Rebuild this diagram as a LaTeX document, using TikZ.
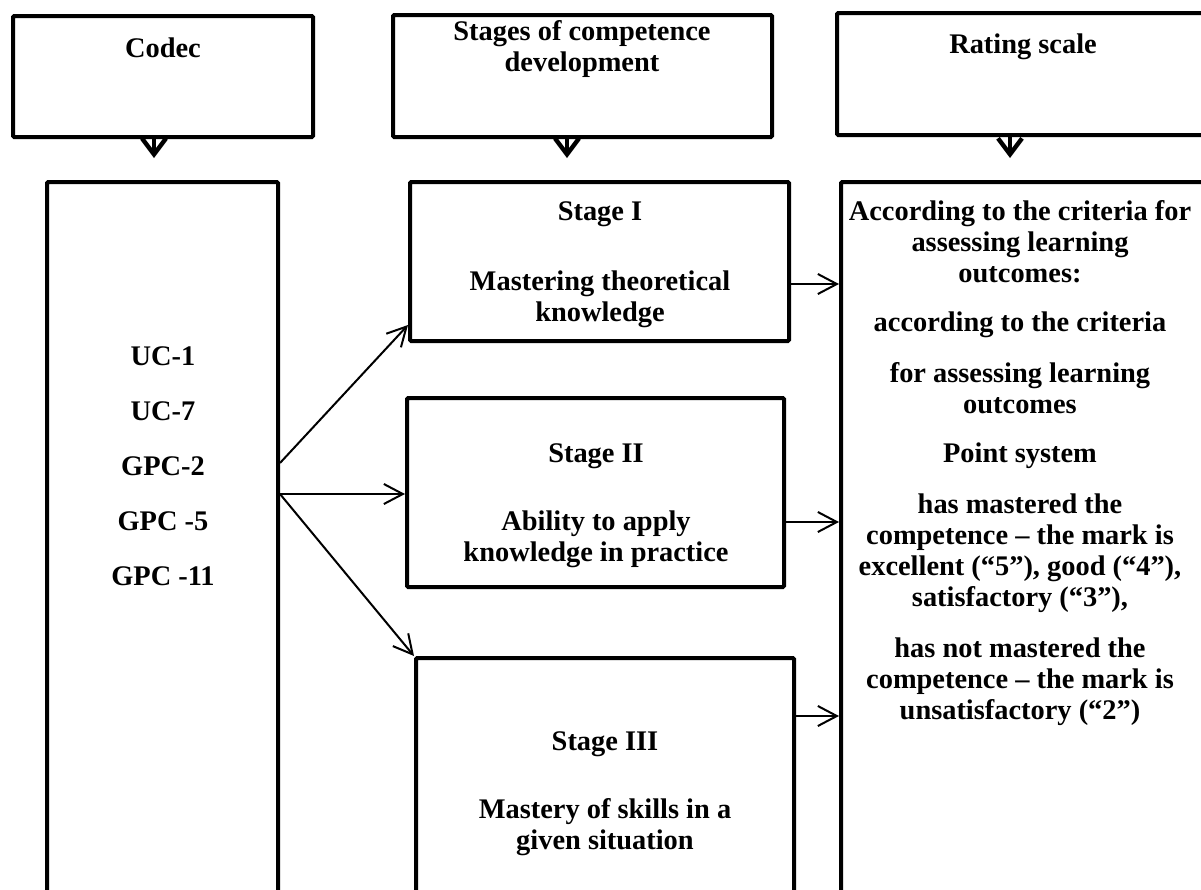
\documentclass[tikz,border=0pt]{standalone}
\usepackage{fontspec}
\setmainfont{Liberation Serif}
\usetikzlibrary{arrows.meta,calc}
\begin{document}
\begin{tikzpicture}[x=0.5pt,y=-0.5pt,
  box/.style={draw, line width=2pt, rectangle, inner sep=0pt, rounded corners=0.6pt},
  txt/.style={font=\fontsize{14.2}{15.5}\selectfont\bfseries, align=center, inner sep=0pt},
  thinarrow/.style={line width=1pt, -{Straight Barb[length=9.5pt,width=10pt,line width=1pt]}},
  thickarrow/.style={line width=2.2pt, -{Straight Barb[length=8pt,width=12pt,line width=2.2pt]}}]
\useasboundingbox (0,0) rectangle (1201,890);
\clip (0,0) rectangle (1201,890);
% top boxes
\node[box, minimum width=150pt, minimum height=60.5pt] (codec) at (163,76.5) {};
\node[box, minimum width=189.5pt, minimum height=61pt] (stages) at (582.5,76) {};
\node[box, minimum width=186pt, minimum height=61pt] (rating) at (1023,74) {};
% lower boxes
\node[box, minimum width=115.5pt, minimum height=389pt] (list) at (162.5,571) {};
\node[box, minimum width=189.5pt, minimum height=79.5pt] (s1) at (599.5,261.5) {};
\node[box, minimum width=188.5pt, minimum height=94.5pt] (s2) at (595.5,492.5) {};
\node[box, minimum width=189pt, minimum height=151pt] (s3) at (605,809) {};
\node[box, minimum width=184pt, minimum height=389pt] (rate) at (1025,571) {};
% texts
\node[txt] (tcodec) at (163,48) {Codec};
\node[txt] (tstages) at (582,49) {Stages of competence\\development};
\node[txt] (trating) at (1023,47) {Rating scale};
\node[txt, font=\fontsize{14.2}{27.5}\selectfont\bfseries] (tlist) at (163,466) {UC-1\\UC-7\\GPC-2\\GPC -5\\GPC -11};
\node[txt] (ts1a) at (600,214) {Stage I};
\node[txt] (ts1b) at (600,299) {Mastering theoretical\\knowledge};
\node[txt] (ts2a) at (596,456) {Stage II};
\node[txt] (ts2b) at (596,539) {Ability to apply\\knowledge in practice};
\node[txt] (ts3a) at (605,744) {Stage III};
\node[txt] (ts3b) at (605,827) {Mastery of skills in a\\given situation};
\node[txt] (trate) at (1020,463) {According to the criteria for\\assessing learning\\outcomes:\\[9pt]
according to the criteria\\[10pt]
for assessing learning\\outcomes\\[9pt]
Point system\\[10pt]
has mastered the\\competence -- the mark is\\excellent (“5”), good (“4”),\\satisfactory (“3”),\\[10pt]
has not mastered the\\competence -- the mark is\\unsatisfactory (“2”)};
% top arrows
\draw[thickarrow, shorten >=11pt] (codec.south -| 154,0) -- (list.north -| 154,0);
\draw[thickarrow, shorten >=11pt] (stages.south -| 567,0) -- (s1.north -| 567,0);
\draw[thickarrow, shorten >=11pt] (rating.south -| 1010,0) -- (rate.north -| 1010,0);
% fan arrows
\coordinate (o1) at (list.east |- 0,463);
\coordinate (o2) at (list.east |- 0,494);
\coordinate (t1) at (s1.west |- 0,325);
\draw[thinarrow] (o1) -- (t1);
\draw[thinarrow] (o2) -- (s2.west |- o2);
\draw[thinarrow] (o2) -- (s3.north west);
% right arrows
\draw[thinarrow] (s1.east |- 0,284) -- (rate.west |- 0,284);
\draw[thinarrow] (s2.east |- 0,522) -- (rate.west |- 0,522);
\draw[thinarrow] (s3.east |- 0,716) -- (rate.west |- 0,716);
\end{tikzpicture}
\end{document}
